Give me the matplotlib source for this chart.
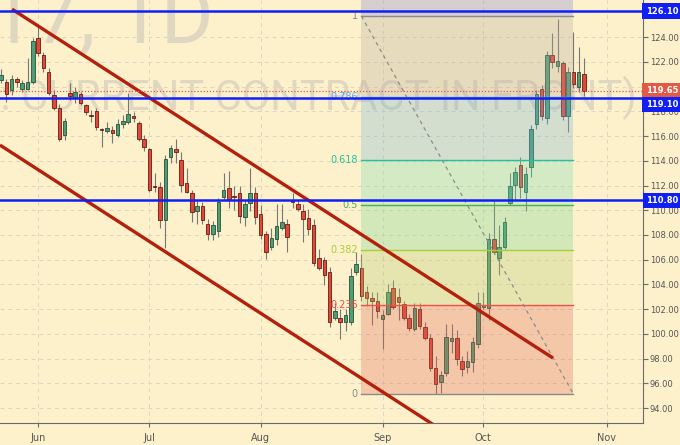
import matplotlib
matplotlib.use("Agg")
import matplotlib.pyplot as plt
from matplotlib.transforms import blended_transform_factory

# daily candles, one entry per trading day (oldest first)
opens = [120.52, 120.36, 119.72, 120.60, 119.80, 119.80, 120.36, 123.92, 122.54, 121.20,
         119.30, 118.26, 116.08, 119.47, 119.07, 119.39, 118.50, 117.65, 118.02, 116.50,
         116.40, 116.48, 116.08, 116.97, 117.13, 117.61, 117.05, 115.75, 114.95, 111.90,
         111.87, 109.21, 114.30, 114.95, 114.06, 112.20, 111.39, 109.93, 110.34, 108.88,
         108.10, 108.32, 111.07, 111.79, 111.10, 111.39, 109.45, 110.58, 111.39, 109.69,
         108.07, 107.02, 107.67, 108.56, 108.88, 110.75, 110.50, 109.93, 109.40, 108.80,
         106.13, 105.97, 105.00, 101.28, 101.28, 100.96, 100.96, 105.00, 105.33, 103.39,
         102.90, 102.66, 101.20, 101.61, 103.71, 102.98, 102.42, 101.28, 100.39, 102.01,
         100.56, 99.67, 97.24, 96.11, 96.84, 99.42, 99.67, 97.81, 97.32, 97.73,
         99.18, 102.20, 102.10, 107.67, 106.13, 107.00, 110.58, 112.04, 113.65, 111.47,
         113.49, 116.97, 119.80, 117.45, 122.54, 121.70, 121.90, 117.61, 121.17, 119.96,
         121.00]
highs = [121.40, 120.60, 120.93, 120.75, 120.50, 122.30, 123.95, 125.00, 122.80, 121.50,
         119.70, 118.60, 117.45, 120.28, 119.96, 119.55, 118.60, 118.10, 118.26, 116.64,
         117.13, 116.80, 117.37, 117.70, 119.47, 117.94, 117.20, 116.10, 115.00, 113.01,
         112.28, 114.46, 115.30, 115.75, 114.70, 113.40, 111.60, 110.80, 110.70, 109.30,
         109.10, 111.00, 113.00, 113.20, 112.00, 112.00, 110.80, 113.40, 111.90, 110.40,
         108.30, 108.60, 110.50, 110.50, 109.30, 111.40, 110.80, 110.50, 110.10, 109.30,
         106.90, 106.20, 105.40, 102.50, 102.00, 102.00, 105.30, 106.60, 106.50, 103.90,
         103.40, 103.40, 101.93, 104.00, 104.40, 103.70, 102.66, 101.60, 102.50, 102.50,
         101.00, 100.00, 98.20, 97.00, 100.80, 100.80, 100.30, 98.20, 98.62, 99.75,
         103.39, 103.40, 108.20, 110.80, 108.80, 109.45, 113.00, 113.50, 114.30, 113.50,
         116.90, 119.72, 120.10, 122.90, 124.30, 125.50, 122.10, 121.60, 124.40, 123.20,
         122.30]
lows = [120.30, 118.75, 119.31, 119.96, 119.60, 119.70, 120.20, 122.50, 121.17, 119.30,
        118.10, 115.60, 115.70, 118.91, 118.66, 118.50, 117.70, 117.13, 116.50, 115.11,
        116.24, 115.43, 115.90, 116.64, 116.97, 117.13, 115.60, 114.80, 111.50, 111.47,
        108.60, 106.94, 113.80, 113.81, 111.47, 111.40, 109.04, 108.90, 108.90, 107.60,
        107.60, 107.80, 110.80, 110.20, 110.00, 109.00, 108.70, 109.90, 108.90, 107.70,
        106.10, 106.80, 107.20, 108.40, 106.60, 110.20, 109.90, 107.43, 108.00, 105.50,
        105.20, 103.95, 100.60, 101.10, 99.60, 100.23, 100.70, 104.80, 102.70, 102.30,
        100.70, 101.30, 98.78, 101.50, 102.00, 101.10, 101.10, 100.20, 100.20, 100.40,
        99.50, 97.00, 95.14, 95.20, 96.60, 98.45, 97.50, 96.60, 96.84, 96.90,
        98.86, 102.00, 101.10, 106.50, 104.80, 106.90, 110.40, 110.80, 111.00, 109.90,
        112.68, 116.60, 117.30, 117.00, 121.50, 121.20, 117.30, 116.30, 119.90, 119.60,
        119.20]
closes = [120.93, 119.39, 120.60, 120.36, 120.28, 120.36, 123.68, 122.71, 121.49, 119.47,
          118.26, 115.75, 117.21, 119.23, 119.55, 118.66, 117.94, 117.60, 116.72, 116.45,
          116.64, 116.24, 116.97, 117.21, 117.78, 117.45, 115.75, 115.11, 111.63, 111.85,
          109.21, 114.14, 115.03, 114.70, 112.04, 111.47, 109.85, 110.34, 109.21, 108.07,
          108.80, 110.66, 111.63, 110.90, 111.05, 109.53, 110.50, 111.39, 109.45, 107.99,
          106.62, 107.75, 108.72, 109.04, 107.83, 110.70, 110.10, 109.29, 108.50, 105.73,
          105.33, 104.76, 100.96, 101.85, 100.96, 101.53, 104.68, 105.65, 103.06, 102.90,
          102.66, 101.85, 101.53, 103.39, 102.17, 102.58, 101.28, 100.48, 102.09, 100.64,
          99.67, 97.24, 95.95, 96.68, 99.75, 99.67, 97.97, 97.16, 97.81, 99.34,
          102.50, 102.35, 107.67, 106.62, 107.02, 109.04, 111.95, 113.09, 111.87, 112.92,
          116.56, 119.39, 117.61, 122.54, 121.98, 122.10, 117.61, 121.17, 120.20, 121.20,
          119.65]

month_pos = [7, 28, 49, 72, 91, 114.3]
month_names = ["Jun", "Jul", "Aug", "Sep", "Oct", "Nov"]
price_ticks = list(range(94, 126, 2))

levels = [126.10, 119.10, 110.80]
last_price = 119.65

# fibonacci retracement drawn from bar 68 to bar 108
fib_start, fib_end = 68, 108
fib_top, fib_bottom = 125.70, 95.14
fib_ratios = [0, 0.236, 0.382, 0.5, 0.618, 0.786, 1]
fib_line_colors = ["#8a8a8a", "#f0504a", "#a6cf3c", "#4cb050", "#26bf9c", "#5aa8e8", "#8a8a8a"]
fib_zone_colors = ["#df6854", "#b7cc6f", "#71d68d", "#78ddb8", "#74b5d6", "#b7ab9d", "#8283d9"]

# channel lines (bar index, price)
chan_top_x, chan_top_y = [2.08, 104.15], [126.26, 98.05]
chan_bot_x, chan_bot_y = [-0.2, 82.0], [115.27, 92.55]

bg = "#fdf1cc"
green, red = "#4f9c75", "#e0483a"

fig = plt.figure(figsize=(6.8, 4.45), dpi=100, facecolor=bg)
ax = fig.add_axes([0, 22 / 445, 643 / 680, 423 / 445], facecolor=bg)
ax.set_xlim(-0.19, 121.13)
ax.set_ylim(92.8, 127.0)

# watermark
ax.text(213 / 643, 1 - 43 / 423, "X2017, 1D", transform=ax.transAxes, ha="right", va="baseline",
        fontsize=58, color="#e0d7c0", family="Roboto", zorder=0.6)
ax.text(637 / 643, 1 - 110 / 423, "(CONTINUOUS: CURRENT CONTRACT IN FRONT)", transform=ax.transAxes,
        ha="right", va="baseline", fontsize=30, color="#e0d7c0", family="Roboto", zorder=0.6)

# candles
for i in range(len(opens)):
    o, h, l, c = opens[i], highs[i], lows[i], closes[i]
    up = c >= o
    ax.vlines(i, l, h, color="#767676", lw=0.8, zorder=2)
    body = max(abs(c - o), 0.08)
    ax.bar(i, body, bottom=min(o, c), width=0.66, color=green if up else red,
           edgecolor="#24503a" if up else "#6a1a10", linewidth=0.6, zorder=2.2)

# fib zones
fib_prices = [fib_bottom + r * (fib_top - fib_bottom) for r in fib_ratios]
bounds = fib_prices + [127.0]
for k in range(len(fib_zone_colors)):
    ax.fill_between([fib_start, fib_end], bounds[k], bounds[k + 1], color=fib_zone_colors[k],
                    alpha=0.3, lw=0, zorder=3)
for r, p, col in zip(fib_ratios, fib_prices, fib_line_colors):
    ax.plot([fib_start, fib_end], [p, p], color=col, lw=1, zorder=4)
    lab = "%g" % r
    ax.text(fib_start - 0.7, p, lab, ha="right", va="center", fontsize=7, color=col, zorder=4)
ax.plot([fib_start, fib_end], [fib_top, fib_bottom], color="#8c8c8c", lw=0.9,
        linestyle=(0, (3, 3)), zorder=4)

# channel
ax.plot(chan_top_x, chan_top_y, color="#b3200b", lw=2.4, zorder=5, solid_capstyle="butt")
ax.plot(chan_bot_x, chan_bot_y, color="#b3200b", lw=2.4, zorder=5, solid_capstyle="butt")

# horizontal levels
for lv in levels:
    ax.axhline(lv, color="#1020f5", lw=1.8, zorder=6)
ax.axhline(last_price, color="#e05a47", lw=0.9, linestyle=(0, (1, 1.5)), zorder=6)

# axes styling
ax.grid(True, color="#ddd6c4", linestyle=(0, (4, 4)), lw=0.7)
ax.set_axisbelow(True)
for s in ["top", "left"]:
    ax.spines[s].set_visible(False)
ax.spines["right"].set_color("#6b6b6b")
ax.spines["bottom"].set_color("#6b6b6b")
ax.yaxis.tick_right()
ax.set_yticks(price_ticks)
ax.set_yticklabels(["%.2f" % t for t in price_ticks])
ax.set_xticks(month_pos)
ax.set_xticklabels(month_names)
ax.tick_params(axis="y", length=3.5, color="#6b6b6b", labelcolor="#555555", labelsize=6, pad=1.5)
ax.tick_params(axis="x", length=3, color="#6b6b6b", labelcolor="#555555", labelsize=7, pad=4)

# price labels on the right scale
tr = blended_transform_factory(ax.transAxes, ax.transData)
box_x = 1 + 19 / 643
ax.text(box_x, last_price, "%.2f" % last_price, transform=tr, ha="center", va="center",
        fontsize=6, fontweight="bold", color="white", clip_on=False, zorder=10,
        bbox=dict(boxstyle="square,pad=0.4", fc="#e05a47", ec="none"))
for lv in levels:
    y = lv
    if abs(lv - last_price) < 1.0:
        y = last_price - 1.1
    ax.text(box_x, y, "%.2f" % lv, transform=tr, ha="center", va="center",
            fontsize=6, fontweight="bold", color="white", clip_on=False, zorder=10,
            bbox=dict(boxstyle="square,pad=0.4", fc="#1020f5", ec="none"))

fig.savefig("out.png", dpi=100, facecolor=bg)
